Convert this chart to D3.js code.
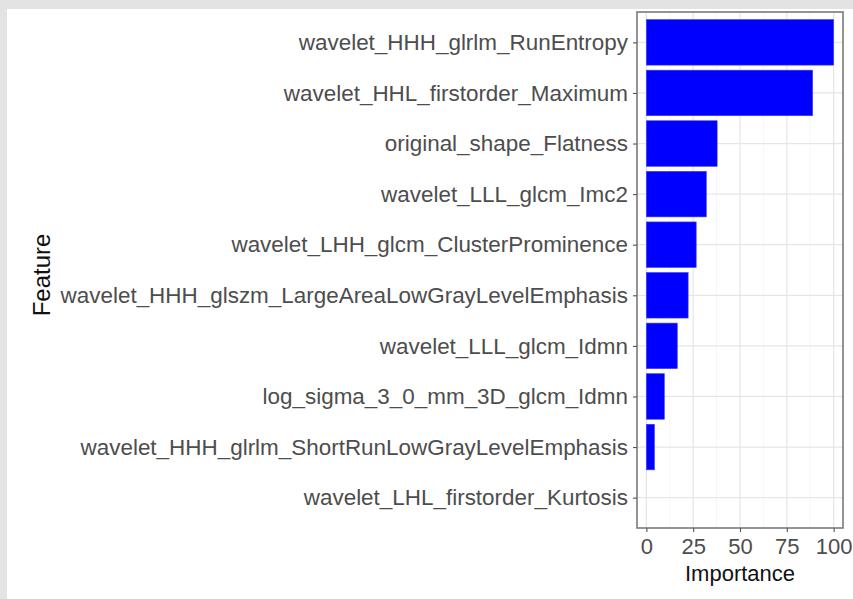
<!DOCTYPE html>
<html><head><meta charset="utf-8">
<script src="https://cdn.jsdelivr.net/npm/d3@7"></script>
<style>body{margin:0;background:#e3e3e3;}svg{display:block;}</style>
</head><body>
<svg id="c" width="853" height="599"></svg>
<script>
const features = [
  "wavelet_HHH_glrlm_RunEntropy",
  "wavelet_HHL_firstorder_Maximum",
  "original_shape_Flatness",
  "wavelet_LLL_glcm_Imc2",
  "wavelet_LHH_glcm_ClusterProminence",
  "wavelet_HHH_glszm_LargeAreaLowGrayLevelEmphasis",
  "wavelet_LLL_glcm_Idmn",
  "log_sigma_3_0_mm_3D_glcm_Idmn",
  "wavelet_HHH_glrlm_ShortRunLowGrayLevelEmphasis",
  "wavelet_LHL_firstorder_Kurtosis"
];
const importance = [100, 88.8, 37.8, 32.0, 26.6, 22.3, 16.5, 9.6, 4.3, 0];
const xTicks = [0, 25, 50, 75, 100];
const xMinor = [12.5, 37.5, 62.5, 87.5];

const svg = d3.select("#c");
svg.append("rect").attr("x",7).attr("y",9).attr("width",846).attr("height",590).attr("fill","#fff");

const P = {l:637, r:843, t:12, b:528};
const FONT = "'Liberation Sans',Arial,sans-serif";
const x = d3.scaleLinear().domain([-5, 105]).range([P.l, P.r]);
const y = d3.scalePoint().domain(features).range([P.t, P.b]).padding(0.6);
const bh = y.step() * 0.9;

const g = svg.append("g");
g.selectAll(".mn").data(xMinor).join("line")
  .attr("x1",d=>x(d)).attr("x2",d=>x(d)).attr("y1",P.t).attr("y2",P.b)
  .attr("stroke","#f4f4f4").attr("stroke-width",0.8);
g.selectAll(".mj").data(xTicks).join("line")
  .attr("x1",d=>x(d)).attr("x2",d=>x(d)).attr("y1",P.t).attr("y2",P.b)
  .attr("stroke","#e6e6e6").attr("stroke-width",1.2);
g.selectAll(".hy").data(features).join("line")
  .attr("x1",P.l).attr("x2",P.r).attr("y1",d=>y(d)).attr("y2",d=>y(d))
  .attr("stroke","#e6e6e6").attr("stroke-width",1.2);

g.selectAll(".bar").data(features).join("rect")
  .attr("x", x(0)).attr("y", d=>y(d) - bh/2)
  .attr("width", (d,i)=>x(importance[i]) - x(0))
  .attr("height", bh)
  .attr("fill","#0000ff").attr("stroke","#3a3aff").attr("stroke-width",0.6);

svg.append("rect").attr("x",P.l).attr("y",P.t).attr("width",P.r-P.l).attr("height",P.b-P.t)
  .attr("fill","none").attr("stroke","#7a7a7a").attr("stroke-width",1.6);

const ya = svg.append("g").attr("transform",`translate(${P.l},0)`)
  .call(d3.axisLeft(y).tickSize(4).tickPadding(5));
ya.select(".domain").remove();
ya.selectAll(".tick line").attr("stroke","#555").attr("stroke-width",1.1);
ya.selectAll(".tick text").attr("fill","#4d4d4d").style("font-family",FONT).style("font-size","22.45px");

const xa = svg.append("g").attr("transform",`translate(0,${P.b})`)
  .call(d3.axisBottom(x).tickValues(xTicks).tickSize(4).tickPadding(6));
xa.select(".domain").remove();
xa.selectAll(".tick line").attr("stroke","#555").attr("stroke-width",1.1);
xa.selectAll(".tick text").attr("fill","#4d4d4d").style("font-family",FONT).style("font-size","22px");

svg.append("text").attr("x",(P.l+P.r)/2).attr("y",581).attr("text-anchor","middle")
  .style("font-family",FONT).style("font-size","22px").attr("fill","#111").text("Importance");
svg.append("text").attr("transform",`translate(50,${(P.t+P.b)/2 + 5}) rotate(-90)`).attr("text-anchor","middle")
  .style("font-family",FONT).style("font-size","24px").attr("fill","#111").text("Feature");
</script>
</body></html>
